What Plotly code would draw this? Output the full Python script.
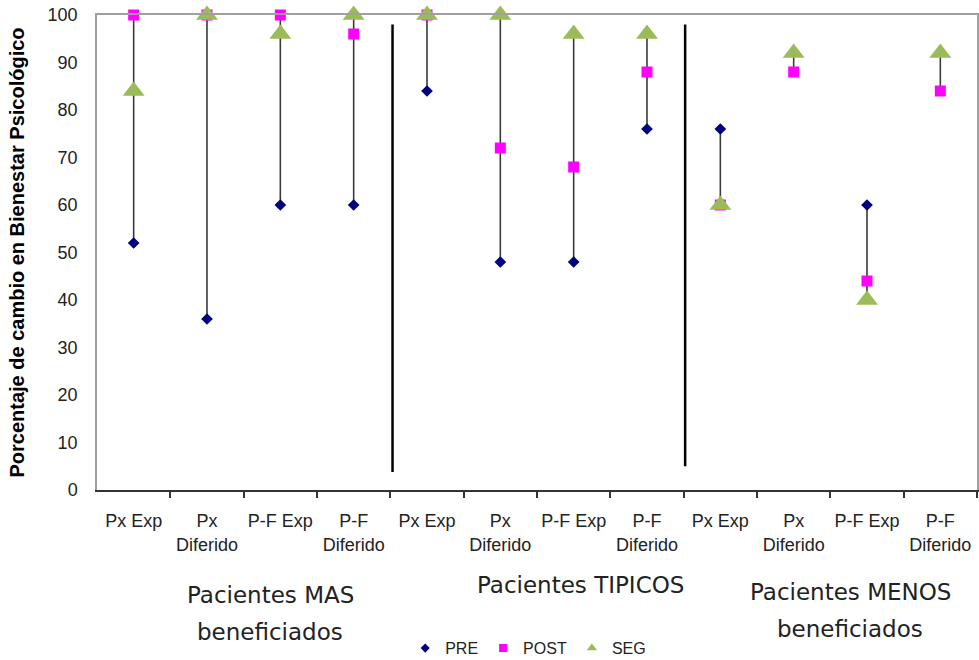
import plotly.graph_objects as go

# ---------------- data ----------------
tick_labels = ["Px Exp", "Px<br>Diferido", "P-F Exp", "P-F<br>Diferido",
               "Px Exp", "Px<br>Diferido", "P-F Exp", "P-F<br>Diferido",
               "Px Exp", "Px<br>Diferido", "P-F Exp", "P-F<br>Diferido"]
positions = list(range(1, 13))
pre = [52, 36, 60, 60, 84, 48, 48, 76, 76, None, 60, None]
post = [100, 100, 100, 96, 100, 72, 68, 88, 60, 88, 44, 84]
seg = [84, 100, 96, 100, 100, 100, 96, 96, 60, 92, 40, 92]
group_labels = [["Pacientes MAS", "beneficiados"], ["Pacientes TIPICOS"],
                ["Pacientes MENOS", "beneficiados"]]
group_label_x = [2.86, 7.09, 10.77]
group_label_y = [-0.19, -0.168, -0.183]
separators = [(4.53, 3.8, 98), (8.52, 5, 98)]
y_ticks = list(range(0, 101, 10))

# ---------------- figure ----------------
fig = go.Figure()

# high-low lines
lx, ly = [], []
for x, a, b, c in zip(positions, pre, post, seg):
    vals = [v for v in (a, b, c) if v is not None]
    lx += [x, x, None]
    ly += [min(vals), max(vals), None]
fig.add_trace(go.Scatter(x=lx, y=ly, mode="lines", line=dict(color="#3a3a3a", width=1.6),
                         showlegend=False, hoverinfo="skip", cliponaxis=False))

fig.add_trace(go.Scatter(x=positions, y=pre, mode="markers", name="PRE", showlegend=False,
                         marker=dict(symbol="diamond", color="#000080", size=9), cliponaxis=False))
fig.add_trace(go.Scatter(x=positions, y=post, mode="markers", name="POST", showlegend=False,
                         marker=dict(symbol="square", color="#FF00FF", size=11), cliponaxis=False))
fig.add_trace(go.Scatter(x=positions, y=seg, mode="markers", name="SEG", showlegend=False,
                         marker=dict(symbol="triangle-up", color="#9BBB59", size=19), cliponaxis=False))

# legend-only entries with small symbols
for name, sym, col, sz in [("PRE", "diamond", "#000080", 7), ("POST", "square", "#FF00FF", 8),
                           ("SEG", "triangle-up", "#9BBB59", 9)]:
    fig.add_trace(go.Scatter(x=[None], y=[None], mode="markers", name=name,
                             marker=dict(symbol=sym, color=col, size=sz)))

# tick marks at category boundaries via overlaid axis
fig.add_trace(go.Scatter(x=[None], y=[None], xaxis="x2", showlegend=False))

for (sx, y0, y1) in separators:
    fig.add_shape(type="line", x0=sx, x1=sx, y0=y0, y1=y1, xref="x", yref="y",
                  line=dict(color="black", width=2.5))

for lines, gx, gy in zip(group_labels, group_label_x, group_label_y):
    for i, txt in enumerate(lines):
        fig.add_annotation(text=txt, x=gx, xref="x", y=gy, yref="paper", showarrow=False,
                           xanchor="center", yanchor="top", yshift=-37 * i,
                           font=dict(family="DejaVu Sans", size=23, color="#222222"))

fig.update_layout(
    width=979, height=660,
    margin=dict(l=97, r=2, t=15, b=170, autoexpand=False),
    paper_bgcolor="white", plot_bgcolor="white",
    font=dict(family="Liberation Sans", color="#222222"),
    xaxis=dict(range=[0.5, 12.5], tickvals=positions, ticktext=tick_labels,
               ticks="", showgrid=False, zeroline=False, ticklabelstandoff=14,
               showline=True, linecolor="#a0a0a0", linewidth=1.5, mirror=True,
               tickfont=dict(family="Liberation Sans", size=18, color="#222222"),
               tickangle=0, automargin=False),
    xaxis2=dict(range=[0.5, 12.5], overlaying="x", side="bottom",
                tickvals=[p + 0.5 for p in positions], ticktext=[""] * 12,
                ticks="outside", ticklen=6, tickcolor="#333333", tickwidth=1.5,
                showline=True, linecolor="#333333", linewidth=1.5,
                showgrid=False, zeroline=False, anchor="y", automargin=False),
    yaxis=dict(range=[0, 100], tickvals=y_ticks, showgrid=False, zeroline=False,
               showline=True, linecolor="#a0a0a0", linewidth=1.5, mirror=True,
               ticks="", ticklen=0, ticklabelstandoff=14, automargin=False,
               tickfont=dict(family="Liberation Sans", size=18, color="#222222"),
               title=dict(text="<b>Porcentaje de cambio en Bienestar Psicológico</b>",
                          font=dict(family="Liberation Sans", size=20, color="black"),
                          standoff=18)),
    legend=dict(orientation="h", x=0.49, xanchor="center", y=-0.333, yanchor="middle",
                font=dict(family="Liberation Sans", size=16, color="#222222"),
                itemwidth=30, tracegroupgap=0, bgcolor="rgba(0,0,0,0)"),
)

fig.write_html("out.html")
